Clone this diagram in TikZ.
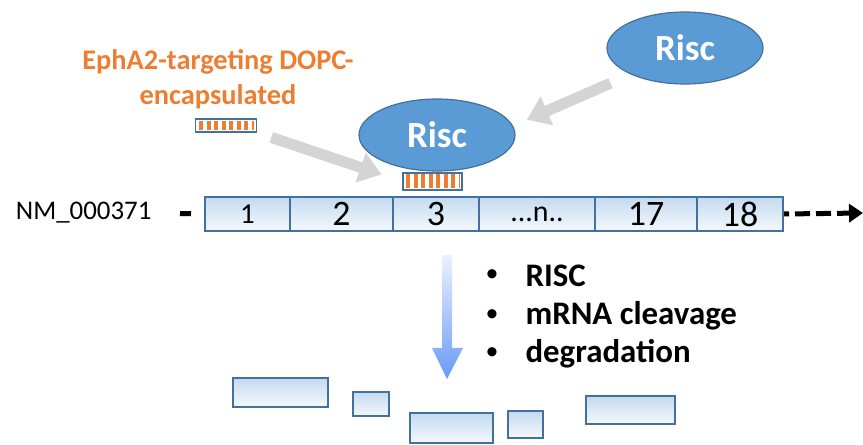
\documentclass[tikz,border=0pt]{standalone}
\usepackage{fontspec}
\setmainfont{Carlito}
\usetikzlibrary{shapes.geometric,arrows.meta}
\definecolor{riscblue}{RGB}{91,155,213}
\definecolor{riscedge}{RGB}{65,113,156}
\definecolor{sirnaorange}{RGB}{237,125,49}
\definecolor{exontop}{RGB}{196,218,240}
\definecolor{exonbottom}{RGB}{244,248,252}
\definecolor{arrowgray}{RGB}{212,212,212}
\definecolor{downtop}{RGB}{236,242,253}
\definecolor{downbottom}{RGB}{104,154,245}
\tikzset{
  risc/.style={ellipse, draw=riscedge, line width=1.2bp, fill=riscblue, text=white,
    font=\bfseries\fontsize{37}{37}\selectfont, minimum width=156bp, minimum height=72bp},
  exon/.style={draw=riscedge, line width=2bp, top color=exontop, bottom color=exonbottom,
    minimum height=34bp, inner sep=0pt, font=\fontsize{36}{36}\selectfont},
  fragment/.style={draw=riscedge, line width=2bp, top color=exontop, bottom color=exonbottom, inner sep=0pt},
  sirna/.style={draw=riscedge, line width=1.2bp, fill=white, inner sep=0pt},
  sirnabars/.style={sirnaorange, dash pattern=on 4bp off 3.5bp},
  grayarrow/.style={arrowgray, line width=11bp, -{Triangle[width=30bp,length=22bp]}},
  itemtext/.style={anchor=west, font=\bfseries\fontsize{33}{33}\selectfont}
}
\begin{document}
\begin{tikzpicture}[x=1bp, y=-1bp]
      \useasboundingbox (0,0) rectangle (863,445);

      \node[text=sirnaorange, align=center, font=\bfseries\fontsize{28.5}{35}\selectfont] (carrier) at (218,79.5) {EphA2-targeting DOPC-\\encapsulated};
      \node[sirna, minimum width=61bp, minimum height=13bp] (sirnaA) at (226,125.5) {};
        \draw[sirnabars, line width=9bp] (199,125.5) -- (254,125.5);

      \node[exon, minimum width=85bp] (ex1) at (247.5,214) {\fontsize{29}{29}\selectfont 1};
      \node[exon, minimum width=103bp] (ex2) at (341.5,214) {2};
      \node[exon, minimum width=86bp] (ex3) at (436,214) {3};
      \node[exon, minimum width=116bp] (exn) at (537,214) {\fontsize{30}{30}\selectfont ...n..};
      \node[exon, minimum width=102bp] (ex17) at (646,214) {17};
      \node[exon, minimum width=86bp] (ex18) at (740,214) {18};

      \node[anchor=east, font=\fontsize{27}{27}\selectfont] (gene) at (155,213) {NM\_000371};
      \draw[line width=5bp, shorten <=25bp, shorten >=13bp] (gene.east) -- (ex1.west);
      \coordinate (strandend) at (863,213);
      \draw[line width=5bp, dash pattern=on 15bp off 6bp, dash phase=10bp,
        -{Triangle[width=18bp,length=14bp]}] (ex18.east) -- (strandend);

      \node[sirna, minimum width=59bp, minimum height=17bp] (sirnaB) at (432.5,181.5) {};
        \draw[sirnabars, line width=14bp] (406,181.5) -- (460,181.5);
      \node[risc] (riscmid) at (437,135) {Risc};
      \node[risc] (risctop) at (685,48) {Risc};

      \draw[grayarrow, shorten <=22bp, shorten >=15bp] (risctop.206) -- (riscmid.7);
      \draw[grayarrow, shorten <=15bp, shorten >=22bp] (sirnaA.south east) -- (sirnaB.west);

      \shade[top color=downtop, bottom color=downbottom] (442,255) -- (452,255) -- (452,348)
        -- (463,348) -- (447,379) -- (432,348) -- (442,348) -- cycle;

      \node (dot1) at (492,276) {\fontsize{26}{26}\selectfont\textbullet};
      \node[itemtext] (item1) at (522,276) {RISC};
      \node (dot2) at (492,316) {\fontsize{26}{26}\selectfont\textbullet};
      \node[itemtext] (item2) at (522,316) {mRNA cleavage};
      \node (dot3) at (492,354) {\fontsize{26}{26}\selectfont\textbullet};
      \node[itemtext] (item3) at (522,354) {degradation};

      \node[fragment, minimum width=95bp, minimum height=29bp] (frag1) at (280.5,392.5) {};
      \node[fragment, minimum width=36bp, minimum height=24bp] (frag2) at (371,404) {};
      \node[fragment, minimum width=83bp, minimum height=30bp] (frag3) at (451.5,428) {};
      \node[fragment, minimum width=35bp, minimum height=27bp] (frag4) at (525.5,424.5) {};
      \node[fragment, minimum width=89bp, minimum height=28bp] (frag5) at (630.5,410) {};
    \end{tikzpicture}
\end{document}
